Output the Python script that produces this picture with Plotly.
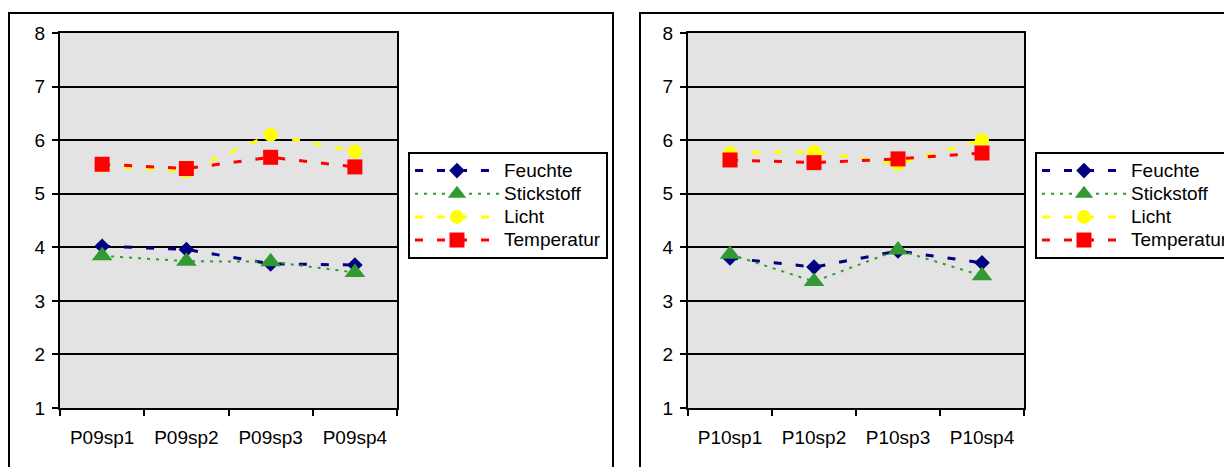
import plotly.graph_objects as go

# Series values per sampling point (scale 1-8)
series_names = ["Feuchte", "Stickstoff", "Licht", "Temperatur"]

p09_labels = ["P09sp1", "P09sp2", "P09sp3", "P09sp4"]
p09_feuchte = [4.02, 3.96, 3.69, 3.67]
p09_stickstoff = [3.84, 3.74, 3.73, 3.53]
p09_licht = [5.52, 5.42, 6.10, 5.79]
p09_temperatur = [5.55, 5.47, 5.68, 5.50]

p10_labels = ["P10sp1", "P10sp2", "P10sp3", "P10sp4"]
p10_feuchte = [3.80, 3.63, 3.93, 3.71]
p10_stickstoff = [3.87, 3.36, 3.95, 3.47]
p10_licht = [5.76, 5.78, 5.56, 6.00]
p10_temperatur = [5.63, 5.58, 5.65, 5.76]

y_ticks = [1, 2, 3, 4, 5, 6, 7, 8]

W, H = 1224, 467
FONT = "Liberation Sans, Arial, sans-serif"
FS = 19


def px_x(v):
    return v / W


def px_y(v):
    return (H - v) / H


styles = {
    "Feuchte": dict(color="#000080", dash="8px,14px", width=3,
                    symbol="diamond", size=12),
    "Stickstoff": dict(color="#339933", dash="3px,6px", width=2,
                       symbol="triangle-up", size=18),
    "Licht": dict(color="#FFFF00", dash="8px,14px", width=3,
                  symbol="circle", size=14),
    "Temperatur": dict(color="#FF0000", dash="8px,14px", width=3,
                       symbol="square", size=15),
}

panels = [
    dict(labels=p09_labels,
         values=[p09_feuchte, p09_stickstoff, p09_licht, p09_temperatur],
         xaxis="x", yaxis="y", legend="legend"),
    dict(labels=p10_labels,
         values=[p10_feuchte, p10_stickstoff, p10_licht, p10_temperatur],
         xaxis="x2", yaxis="y2", legend="legend2"),
]

fig = go.Figure()
for panel in panels:
    for name, vals in zip(series_names, panel["values"]):
        st = styles[name]
        fig.add_trace(go.Scatter(
            x=panel["labels"], y=vals, mode="lines+markers",
            # legend rows are spaced by a smaller base font; the label itself is larger
            name=f'<span style="font-size:{FS}px">{name}</span>',
            xaxis=panel["xaxis"], yaxis=panel["yaxis"], legend=panel["legend"],
            line=dict(color=st["color"], dash=st["dash"], width=st["width"]),
            marker=dict(symbol=st["symbol"], size=st["size"], color=st["color"],
                        line=dict(width=0)),
        ))

axis_common = dict(showline=True, mirror=True, linecolor="black", linewidth=2,
                   ticks="outside", ticklen=6, tickwidth=2, tickcolor="black",
                   tickfont=dict(family=FONT, size=FS, color="black"),
                   automargin=False, fixedrange=True)

x_common = dict(axis_common, type="category", tickson="boundaries",
                showgrid=False, range=[-0.5, 3.5], ticklabelstandoff=11)
y_common = dict(axis_common, range=[1, 8], tickvals=y_ticks, showgrid=True,
                gridcolor="black", gridwidth=2, zeroline=False,
                ticklabelstandoff=3)

plot_y = [px_y(408), px_y(33)]

legend_common = dict(
    bgcolor="white", bordercolor="black", borderwidth=2,
    font=dict(family=FONT, size=15.5, color="black"),
    xanchor="left", yanchor="top", itemwidth=84,
    tracegroupgap=0, itemclick=False, itemdoubleclick=False,
)

fig.update_layout(
    width=W, height=H,
    margin=dict(l=0, r=0, t=0, b=0, autoexpand=False),
    paper_bgcolor="white",
    plot_bgcolor="#E3E3E3",
    showlegend=True,
    xaxis=dict(x_common, domain=[px_x(60), px_x(397)], anchor="y"),
    yaxis=dict(y_common, domain=plot_y, anchor="x"),
    xaxis2=dict(x_common, domain=[px_x(688), px_x(1024)], anchor="y2"),
    yaxis2=dict(y_common, domain=plot_y, anchor="x2"),
    legend=dict(legend_common, x=px_x(408), y=px_y(152)),
    legend2=dict(legend_common, x=px_x(1035), y=px_y(152)),
    shapes=[
        dict(type="rect", xref="paper", yref="paper",
             x0=px_x(9), x1=px_x(613), y0=-0.2, y1=px_y(13),
             line=dict(color="black", width=2), fillcolor="rgba(0,0,0,0)",
             layer="below"),
        dict(type="rect", xref="paper", yref="paper",
             x0=px_x(640), x1=1.2, y0=-0.2, y1=px_y(13),
             line=dict(color="black", width=2), fillcolor="rgba(0,0,0,0)",
             layer="below"),
    ],
)

fig.write_html("out.html")
